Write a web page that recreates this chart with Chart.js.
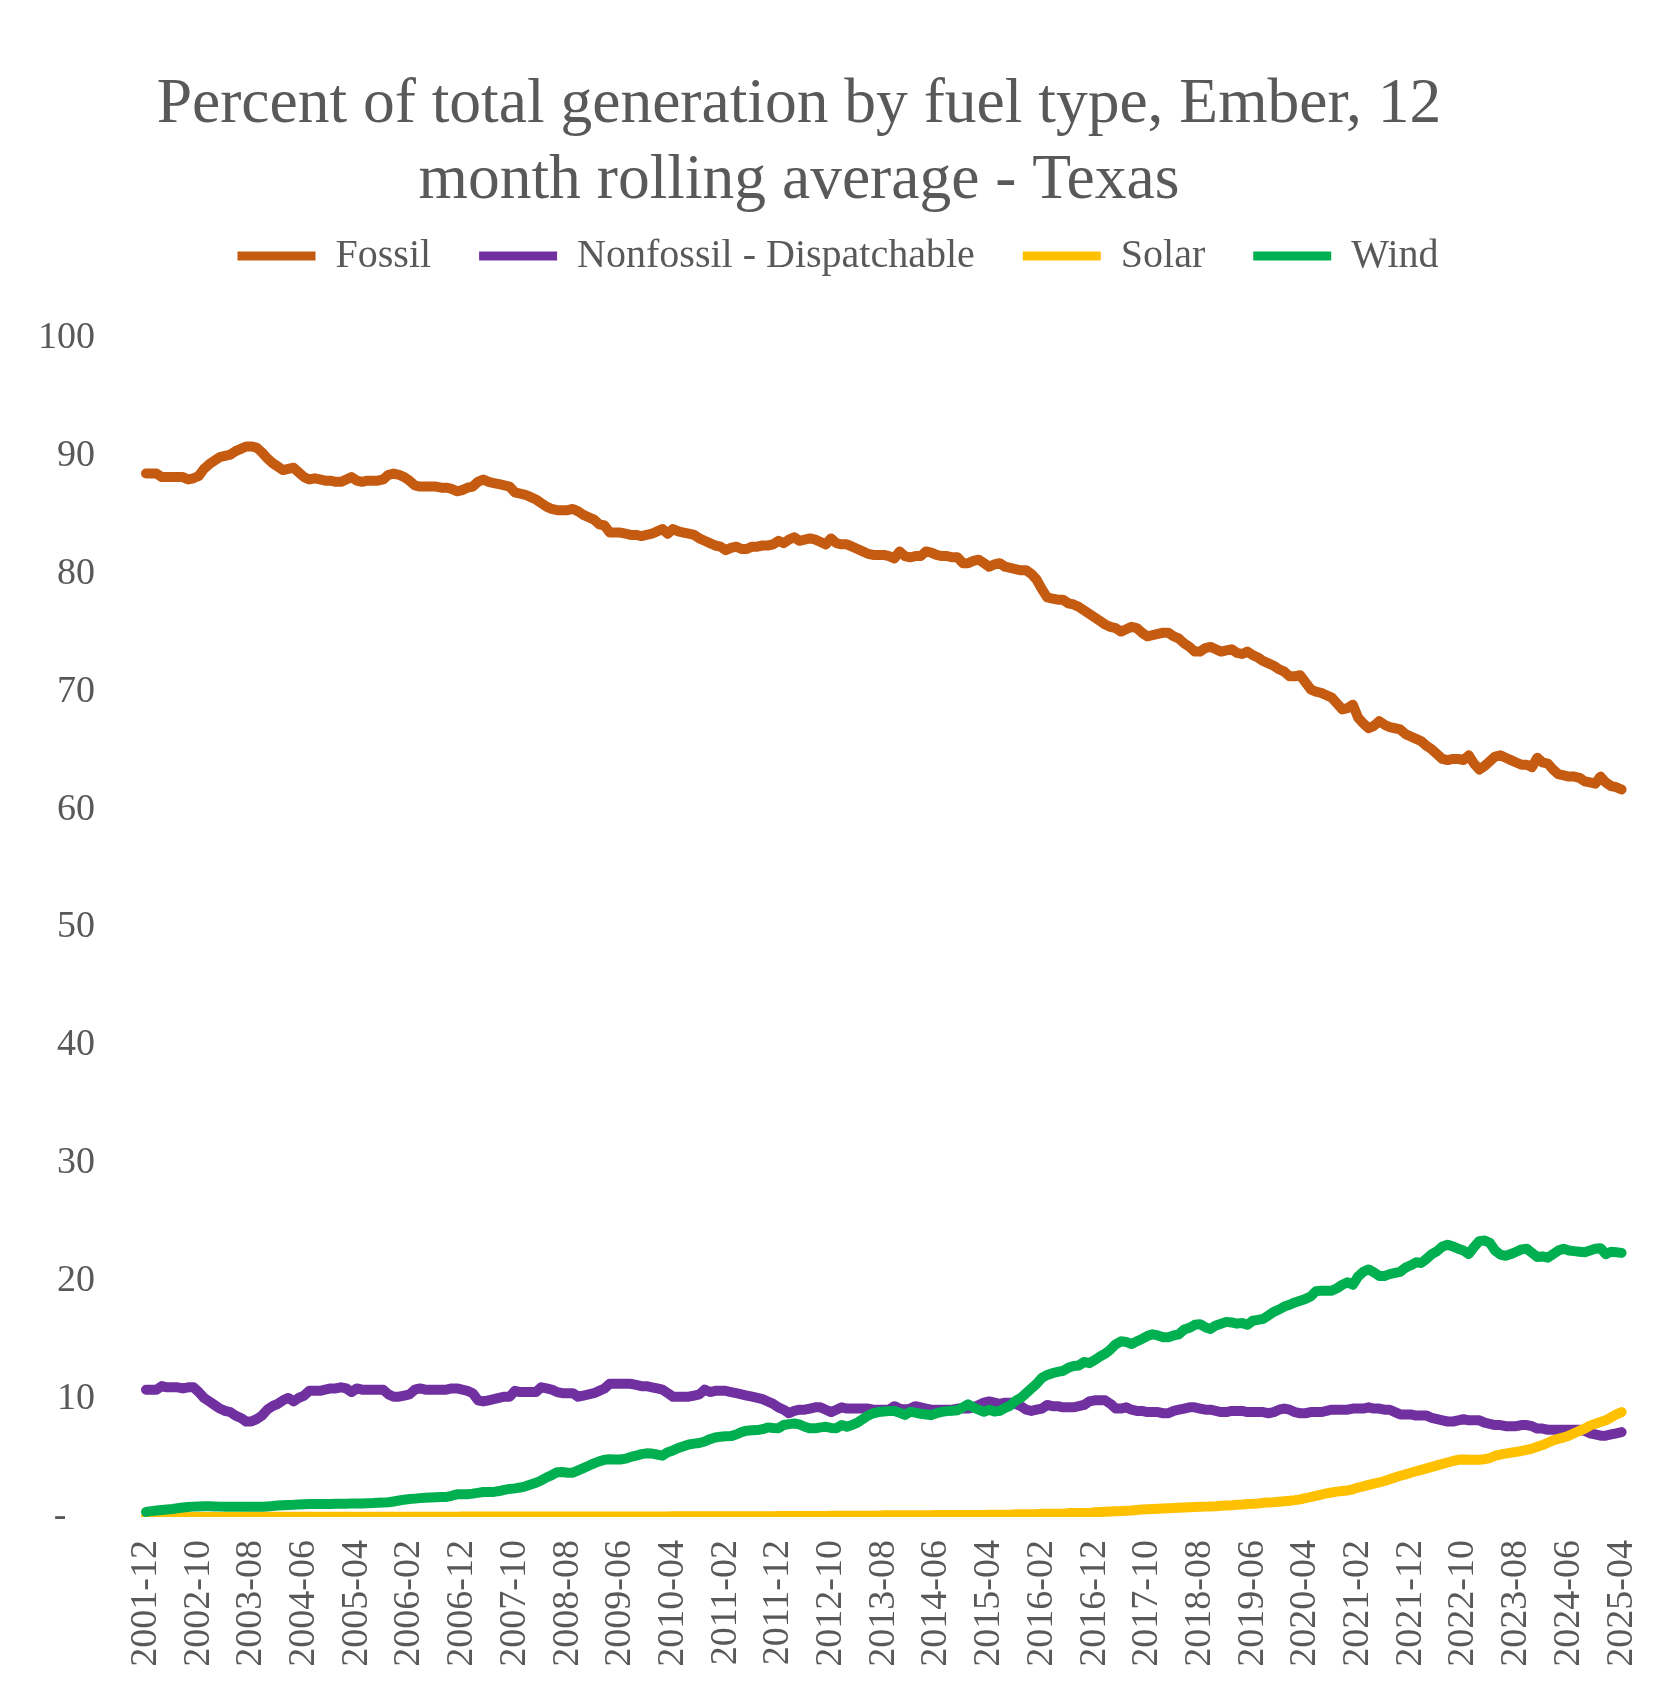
<!DOCTYPE html>
<html>
<head>
<meta charset="utf-8">
<title>Percent of total generation by fuel type - Texas</title>
<script src="https://cdn.jsdelivr.net/npm/chart.js@4.4.1/dist/chart.umd.min.js"></script>
<style>
  body { margin: 0; background: #fff; }
  canvas { display: block; }
</style>
</head>
<body>
<canvas id="genChart" width="1668" height="1695"></canvas>
<script>
const titleLines = ['Percent of total generation by fuel type, Ember, 12', 'month rolling average - Texas'];
const seriesNames = ['Fossil', 'Nonfossil - Dispatchable', 'Solar', 'Wind'];
const seriesColors = ['#C55A11', '#7030A0', '#FFC000', '#00B050'];

// x-axis labels shown (every 10th month)
const tickLabels = ['2001-12', '2002-10', '2003-08', '2004-06', '2005-04', '2006-02', '2006-12', '2007-10',
  '2008-08', '2009-06', '2010-04', '2011-02', '2011-12', '2012-10', '2013-08', '2014-06', '2015-04',
  '2016-02', '2016-12', '2017-10', '2018-08', '2019-06', '2020-04', '2021-02', '2021-12', '2022-10',
  '2023-08', '2024-06', '2025-04'];

// monthly values, 2001-12 .. 2025-04
const fossil = [
  88.5, 88.5, 88.5, 88.2, 88.2, 88.2, 88.2, 88.2, 88.0, 88.1,
  88.3, 88.9, 89.3, 89.6, 89.9, 90.0, 90.1, 90.4, 90.6, 90.8,
  90.8, 90.7, 90.3, 89.8, 89.4, 89.1, 88.8, 88.9, 89.0, 88.6,
  88.2, 88.0, 88.1, 88.0, 87.9, 87.9, 87.8, 87.8, 88.0, 88.2,
  87.9, 87.8, 87.9, 87.9, 87.9, 88.0, 88.4, 88.5, 88.4, 88.2,
  87.9, 87.5, 87.4, 87.4, 87.4, 87.4, 87.3, 87.3, 87.2, 87.0,
  87.1, 87.3, 87.4, 87.8, 88.0, 87.8, 87.7, 87.6, 87.5, 87.4,
  86.9, 86.8, 86.7, 86.5, 86.3, 86.0, 85.7, 85.5, 85.4, 85.4,
  85.4, 85.5, 85.3, 85.0, 84.8, 84.6, 84.2, 84.1, 83.5, 83.5,
  83.5, 83.4, 83.3, 83.3, 83.2, 83.3, 83.4, 83.6, 83.8, 83.4,
  83.8, 83.6, 83.5, 83.4, 83.3, 83.0, 82.8, 82.6, 82.4, 82.3,
  82.0, 82.2, 82.3, 82.1, 82.1, 82.3, 82.3, 82.4, 82.4, 82.5,
  82.8, 82.6, 82.9, 83.1, 82.8, 82.9, 83.0, 82.9, 82.7, 82.5,
  83.0, 82.6, 82.5, 82.5, 82.3, 82.1, 81.9, 81.7, 81.6, 81.6,
  81.6, 81.5, 81.3, 81.9, 81.5, 81.4, 81.5, 81.5, 81.9, 81.8,
  81.6, 81.5, 81.5, 81.4, 81.4, 80.9, 80.9, 81.1, 81.2, 80.9,
  80.6, 80.8, 80.9, 80.6, 80.5, 80.4, 80.3, 80.3, 80.0, 79.5,
  78.7, 78.0, 77.9, 77.8, 77.8, 77.5, 77.4, 77.2, 76.9, 76.6,
  76.3, 76.0, 75.7, 75.5, 75.4, 75.1, 75.3, 75.5, 75.4, 75.0,
  74.7, 74.8, 74.9, 75.0, 75.0, 74.7, 74.5, 74.1, 73.8, 73.4,
  73.4, 73.7, 73.8, 73.6, 73.4, 73.5, 73.6, 73.3, 73.2, 73.4,
  73.1, 72.9, 72.6, 72.4, 72.2, 71.9, 71.7, 71.3, 71.3, 71.4,
  70.8, 70.2, 70.0, 69.9, 69.7, 69.5, 69.0, 68.5, 68.6, 68.9,
  67.8, 67.3, 66.9, 67.1, 67.5, 67.2, 67.0, 66.9, 66.8, 66.4,
  66.2, 66.0, 65.8, 65.4, 65.1, 64.7, 64.3, 64.2, 64.3, 64.3,
  64.2, 64.6, 63.9, 63.4, 63.7, 64.1, 64.5, 64.6, 64.4, 64.2,
  64.0, 63.8, 63.8, 63.6, 64.4, 64.0, 63.9, 63.4, 63.0, 62.9,
  62.8, 62.8, 62.7, 62.4, 62.3, 62.2, 62.8, 62.3, 62.0, 61.9,
  61.7
];

const nonfossil = [
  10.8, 10.8, 10.8, 11.1, 11.0, 11.0, 11.0, 10.9, 11.0, 11.0,
  10.6, 10.1, 9.8, 9.5, 9.2, 9.0, 8.9, 8.6, 8.4, 8.1,
  8.1, 8.3, 8.6, 9.1, 9.4, 9.6, 9.9, 10.1, 9.8, 10.1,
  10.3, 10.7, 10.7, 10.7, 10.8, 10.9, 10.9, 11.0, 10.9, 10.6,
  10.9, 10.8, 10.8, 10.8, 10.8, 10.8, 10.4, 10.2, 10.2, 10.3,
  10.4, 10.8, 10.9, 10.8, 10.8, 10.8, 10.8, 10.8, 10.9, 10.9,
  10.8, 10.7, 10.5, 9.9, 9.8, 9.9, 10.0, 10.1, 10.2, 10.2,
  10.7, 10.6, 10.6, 10.6, 10.6, 11.0, 10.9, 10.8, 10.6, 10.5,
  10.5, 10.5, 10.2, 10.3, 10.4, 10.5, 10.7, 10.9, 11.3, 11.3,
  11.3, 11.3, 11.3, 11.2, 11.1, 11.1, 11.0, 10.9, 10.8, 10.5,
  10.2, 10.2, 10.2, 10.2, 10.3, 10.4, 10.8, 10.6, 10.7, 10.7,
  10.7, 10.6, 10.5, 10.4, 10.3, 10.2, 10.1, 10.0, 9.8, 9.6,
  9.3, 9.1, 8.8, 9.0, 9.1, 9.1, 9.2, 9.3, 9.3, 9.1,
  8.9, 9.1, 9.3, 9.2, 9.2, 9.2, 9.2, 9.2, 9.1, 9.1,
  9.1, 9.1, 9.4, 9.2, 9.1, 9.2, 9.4, 9.3, 9.2, 9.1,
  9.1, 9.1, 9.1, 9.1, 9.2, 9.2, 9.2, 9.3, 9.5, 9.7,
  9.8, 9.7, 9.6, 9.7, 9.7, 9.6, 9.4, 9.1, 9.0, 9.1,
  9.2, 9.5, 9.4, 9.4, 9.3, 9.3, 9.3, 9.4, 9.5, 9.8,
  9.9, 9.9, 9.9, 9.6, 9.2, 9.2, 9.3, 9.1, 9.0, 9.0,
  8.9, 8.9, 8.9, 8.8, 8.8, 9.0, 9.1, 9.2, 9.3, 9.3,
  9.2, 9.1, 9.1, 9.0, 8.9, 8.9, 9.0, 9.0, 9.0, 8.9,
  8.9, 8.9, 8.9, 8.8, 8.9, 9.1, 9.2, 9.1, 8.9, 8.8,
  8.8, 8.9, 8.9, 8.9, 9.0, 9.1, 9.1, 9.1, 9.1, 9.2,
  9.2, 9.2, 9.3, 9.2, 9.2, 9.1, 9.1, 8.9, 8.7, 8.7,
  8.7, 8.6, 8.6, 8.6, 8.4, 8.3, 8.2, 8.1, 8.1, 8.2,
  8.3, 8.2, 8.2, 8.2, 8.0, 7.9, 7.8, 7.8, 7.7, 7.7,
  7.7, 7.8, 7.8, 7.7, 7.5, 7.5, 7.4, 7.4, 7.4, 7.4,
  7.4, 7.4, 7.4, 7.3, 7.1, 7.0, 6.9, 6.9, 7.0, 7.1,
  7.2
];

const solar = [
  0.01, 0.01, 0.01, 0.01, 0.01, 0.01, 0.01, 0.01, 0.01, 0.01,
  0.01, 0.01, 0.01, 0.01, 0.01, 0.01, 0.01, 0.01, 0.01, 0.01,
  0.02, 0.02, 0.02, 0.02, 0.02, 0.02, 0.02, 0.02, 0.02, 0.02,
  0.02, 0.02, 0.02, 0.02, 0.02, 0.02, 0.02, 0.02, 0.02, 0.02,
  0.03, 0.03, 0.03, 0.03, 0.03, 0.03, 0.03, 0.03, 0.03, 0.03,
  0.03, 0.03, 0.03, 0.03, 0.03, 0.03, 0.03, 0.03, 0.03, 0.03,
  0.04, 0.04, 0.04, 0.04, 0.04, 0.04, 0.04, 0.04, 0.04, 0.04,
  0.04, 0.04, 0.04, 0.04, 0.04, 0.04, 0.04, 0.04, 0.04, 0.04,
  0.05, 0.05, 0.05, 0.05, 0.05, 0.05, 0.05, 0.05, 0.05, 0.05,
  0.05, 0.05, 0.05, 0.05, 0.05, 0.05, 0.05, 0.05, 0.05, 0.05,
  0.07, 0.07, 0.07, 0.07, 0.07, 0.07, 0.07, 0.07, 0.07, 0.07,
  0.07, 0.07, 0.07, 0.07, 0.07, 0.07, 0.07, 0.07, 0.07, 0.07,
  0.09, 0.09, 0.09, 0.09, 0.09, 0.09, 0.09, 0.09, 0.09, 0.09,
  0.11, 0.11, 0.11, 0.11, 0.11, 0.11, 0.11, 0.11, 0.11, 0.11,
  0.14, 0.14, 0.14, 0.14, 0.14, 0.14, 0.14, 0.14, 0.14, 0.14,
  0.17, 0.17, 0.17, 0.17, 0.17, 0.17, 0.17, 0.17, 0.17, 0.17,
  0.20, 0.20, 0.20, 0.20, 0.20, 0.23, 0.23, 0.23, 0.23, 0.23,
  0.27, 0.27, 0.27, 0.27, 0.27, 0.33, 0.33, 0.33, 0.33, 0.33,
  0.40, 0.42, 0.44, 0.46, 0.48, 0.50, 0.53, 0.56, 0.60, 0.63,
  0.66, 0.68, 0.70, 0.72, 0.74, 0.76, 0.78, 0.80, 0.82, 0.84,
  0.86, 0.88, 0.90, 0.92, 0.95, 0.98, 1.00, 1.03, 1.06, 1.10,
  1.12, 1.15, 1.20, 1.23, 1.26, 1.30, 1.34, 1.38, 1.43, 1.50,
  1.60, 1.68, 1.80, 1.90, 2.00, 2.08, 2.15, 2.20, 2.25, 2.35,
  2.50, 2.60, 2.72, 2.83, 2.93, 3.05, 3.20, 3.35, 3.50, 3.62,
  3.75, 3.88, 4.00, 4.12, 4.25, 4.38, 4.50, 4.62, 4.75, 4.85,
  4.88, 4.85, 4.85, 4.86, 4.90, 5.00, 5.20, 5.30, 5.38, 5.45,
  5.52, 5.60, 5.70, 5.80, 5.95, 6.10, 6.30, 6.50, 6.62, 6.75,
  6.90, 7.10, 7.30, 7.50, 7.75, 7.90, 8.05, 8.20, 8.45, 8.70,
  8.90
];

const wind = [
  0.43, 0.50, 0.55, 0.60, 0.64, 0.68, 0.74, 0.80, 0.85, 0.88,
  0.90, 0.92, 0.92, 0.90, 0.88, 0.87, 0.86, 0.86, 0.86, 0.86,
  0.86, 0.86, 0.87, 0.90, 0.93, 0.97, 1.00, 1.02, 1.04, 1.07,
  1.09, 1.10, 1.10, 1.10, 1.10, 1.11, 1.12, 1.12, 1.13, 1.14,
  1.14, 1.15, 1.17, 1.18, 1.20, 1.22, 1.25, 1.32, 1.40, 1.47,
  1.52, 1.56, 1.60, 1.64, 1.66, 1.68, 1.70, 1.70, 1.80, 1.92,
  1.93, 1.93, 1.98, 2.05, 2.12, 2.13, 2.13, 2.20, 2.30, 2.38,
  2.43, 2.50, 2.60, 2.75, 2.90, 3.10, 3.35, 3.55, 3.80, 3.82,
  3.76, 3.76, 3.95, 4.15, 4.35, 4.55, 4.72, 4.85, 4.90, 4.88,
  4.88, 4.95, 5.10, 5.20, 5.33, 5.40, 5.38, 5.30, 5.20, 5.50,
  5.65, 5.85, 6.00, 6.15, 6.22, 6.28, 6.40, 6.60, 6.75, 6.80,
  6.85, 6.86, 7.00, 7.20, 7.32, 7.35, 7.37, 7.45, 7.60, 7.55,
  7.52, 7.80, 7.88, 7.93, 7.85, 7.65, 7.52, 7.52, 7.60, 7.65,
  7.55, 7.52, 7.80, 7.65, 7.80, 8.00, 8.30, 8.60, 8.80, 8.90,
  8.95, 8.98, 9.00, 8.85, 8.65, 8.92, 8.85, 8.75, 8.70, 8.65,
  8.80, 8.92, 8.98, 9.02, 9.06, 9.30, 9.55, 9.30, 9.10, 8.92,
  9.10, 8.95, 9.00, 9.25, 9.45, 9.85, 10.10, 10.50, 10.90, 11.30,
  11.80, 12.05, 12.20, 12.30, 12.40, 12.65, 12.80, 12.85, 13.15, 13.05,
  13.30, 13.60, 13.85, 14.20, 14.65, 14.90, 14.85, 14.67, 14.90, 15.10,
  15.35, 15.50, 15.40, 15.25, 15.25, 15.40, 15.50, 15.90, 16.05, 16.30,
  16.35, 16.10, 15.95, 16.25, 16.40, 16.55, 16.50, 16.40, 16.45, 16.30,
  16.65, 16.72, 16.80, 17.10, 17.40, 17.60, 17.85, 18.00, 18.20, 18.35,
  18.50, 18.70, 19.15, 19.20, 19.20, 19.20, 19.40, 19.70, 19.90, 19.70,
  20.40, 20.80, 21.00, 20.75, 20.45, 20.45, 20.60, 20.70, 20.80, 21.15,
  21.35, 21.60, 21.55, 21.90, 22.30, 22.55, 22.95, 23.10, 22.95, 22.75,
  22.60, 22.30, 22.90, 23.40, 23.45, 23.25, 22.60, 22.25, 22.15, 22.30,
  22.50, 22.70, 22.75, 22.40, 22.05, 22.10, 22.00, 22.30, 22.60, 22.75,
  22.60, 22.55, 22.50, 22.45, 22.60, 22.75, 22.80, 22.30, 22.50, 22.45,
  22.40
];

// month categories starting 2001-12
const months = [];
for (let k = 0; k < fossil.length; k++) {
  const total = 2001 * 12 + 11 + k;
  months.push(`${Math.floor(total / 12)}-${String(total % 12 + 1).padStart(2, '0')}`);
}

const FONT = '"Liberation Serif", "Times New Roman", serif';
const TEXT = '#595959';

// title drawn by hand so it can sit a little left of the canvas centre, like the original
const chartTitle = {
  id: 'chartTitle',
  afterDraw(chart) {
    const ctx = chart.ctx;
    ctx.save();
    ctx.font = `63.5px ${FONT}`;
    ctx.fillStyle = TEXT;
    ctx.textAlign = 'center';
    ctx.textBaseline = 'alphabetic';
    titleLines.forEach((line, k) => ctx.fillText(line, 799, 122 + k * 76));
    ctx.restore();
  }
};

// extra room under the legend
const legendGap = {
  id: 'legendGap',
  beforeInit(chart) {
    const origFit = chart.legend.fit;
    chart.legend.fit = function fit() {
      origFit.bind(chart.legend)();
      this.height += 52;
    };
  }
};

const allSeries = [fossil, nonfossil, solar, wind];

const datasets = allSeries.map((values, i) => ({
  label: seriesNames[i],
  data: values,
  borderColor: seriesColors[i],
  backgroundColor: seriesColors[i],
  borderWidth: 10,
  borderCapStyle: 'round',
  borderJoinStyle: 'round',
  pointRadius: 0,
  pointHoverRadius: 0,
  pointStyle: 'line',
  pointBorderWidth: 9,
  pointBorderColor: seriesColors[i],
  tension: 0,
  fill: false,
  order: allSeries.length - i,          // later series on top, as in Excel
  clip: { left: 10, top: 10, right: 10, bottom: 0 }
}));

new Chart(document.getElementById('genChart'), {
  type: 'line',
  data: { labels: months, datasets: datasets },
  plugins: [chartTitle, legendGap],
  options: {
    responsive: false,
    animation: false,
    devicePixelRatio: 1,
    layout: { padding: { top: 188, left: 34, right: 26, bottom: 0 } },
    plugins: {
      title: { display: false },
      tooltip: { enabled: false },
      legend: {
        position: 'top',
        align: 'center',
        labels: {
          usePointStyle: true,
          pointStyleWidth: 78,
          padding: 48,
          color: TEXT,
          font: { family: FONT, size: 40 },
          sort: (a, b) => a.datasetIndex - b.datasetIndex
        }
      }
    },
    scales: {
      x: {
        grid: { display: false, drawTicks: false },
        border: { display: false },
        afterFit(scale) {
          scale.height = 178;
          scale.paddingLeft = 0;
          scale.paddingRight = 46.4;
        },
        ticks: {
          autoSkip: false,
          maxRotation: 90,
          minRotation: 90,
          padding: 23,
          color: TEXT,
          font: { family: FONT, size: 38 },
          callback(value) {
            const lab = this.getLabelForValue(value);
            return tickLabels.includes(lab) ? lab : null;
          }
        }
      },
      y: {
        min: 0,
        max: 100,
        grid: { display: false, drawTicks: false },
        border: { display: false },
        afterFit(scale) { scale.width = 112; },
        ticks: {
          stepSize: 10,
          padding: 51,
          color: TEXT,
          font: { family: FONT, size: 38 },
          callback: (value) => (value === 0 ? '-   ' : value)
        }
      }
    }
  }
});
</script>
</body>
</html>
